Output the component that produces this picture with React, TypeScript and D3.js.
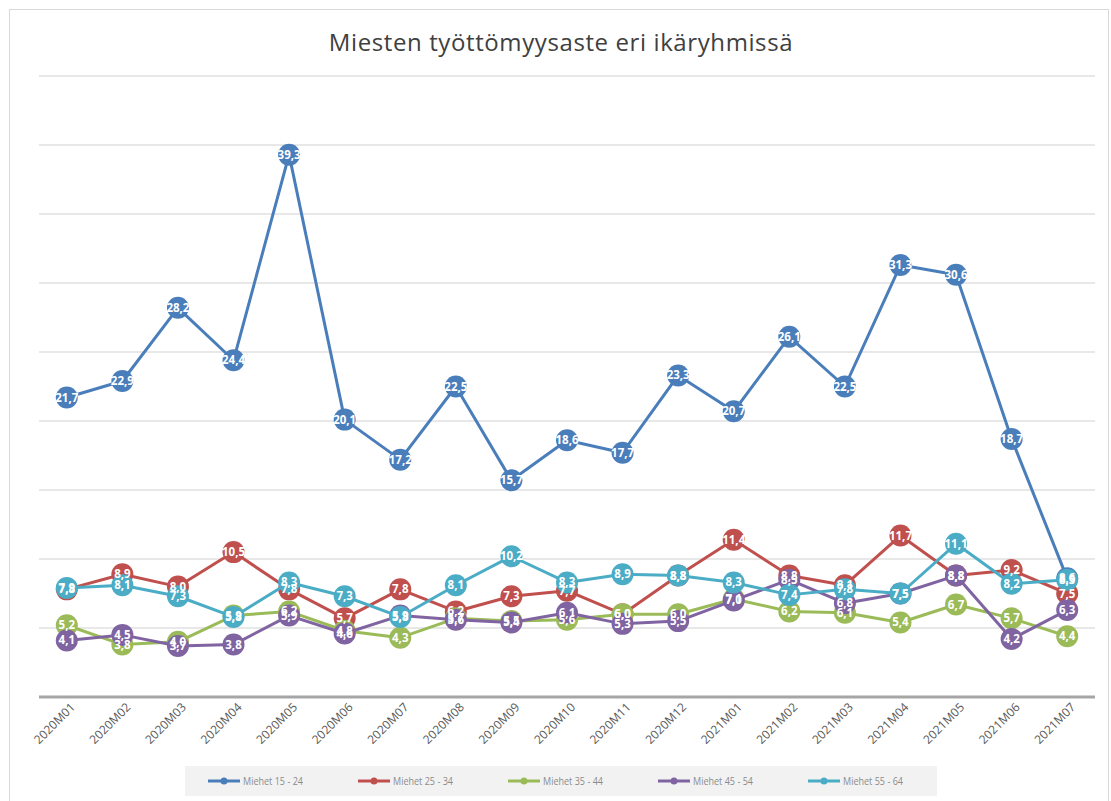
import { useEffect, useRef } from "react";
import * as d3 from "d3";

const months = [
  "2020M01", "2020M02", "2020M03", "2020M04", "2020M05", "2020M06", "2020M07",
  "2020M08", "2020M09", "2020M10", "2020M11", "2020M12", "2021M01", "2021M02",
  "2021M03", "2021M04", "2021M05", "2021M06", "2021M07",
];

const seriesNames = ["Miehet 15 - 24", "Miehet 25 - 34", "Miehet 35 - 44", "Miehet 45 - 54", "Miehet 55 - 64"];
const seriesColors = ["#4a7ebb", "#c0504d", "#9bbb59", "#8064a2", "#4bacc6"];

const men1524 = [21.7, 22.9, 28.2, 24.4, 39.3, 20.1, 17.2, 22.5, 15.7, 18.6, 17.7, 23.3, 20.7, 26.1, 22.5, 31.3, 30.6, 18.7, 8.6];
const men2534 = [7.8, 8.9, 8.0, 10.5, 7.8, 5.7, 7.8, 6.2, 7.3, 7.7, 6.0, 8.8, 11.4, 8.8, 8.1, 11.7, 8.8, 9.2, 7.5];
const men3544 = [5.2, 3.8, 4.0, 5.9, 6.2, 4.8, 4.3, 5.7, 5.5, 5.6, 6.0, 6.0, 7.1, 6.2, 6.1, 5.4, 6.7, 5.7, 4.4];
const men4554 = [4.1, 4.5, 3.7, 3.8, 5.9, 4.6, 5.9, 5.6, 5.4, 6.1, 5.3, 5.5, 7.0, 8.5, 6.8, 7.5, 8.8, 4.2, 6.3];
const men5564 = [7.9, 8.1, 7.3, 5.8, 8.3, 7.3, 5.8, 8.1, 10.2, 8.3, 8.9, 8.8, 8.3, 7.4, 7.8, 7.5, 11.1, 8.2, 8.5];

const yTicks = [0, 5, 10, 15, 20, 25, 30, 35, 40, 45];

const W = 1111;
const H = 801;
const FONT = "'Open Sans', 'Noto Sans', sans-serif";

export default function App() {
  const svgRef = useRef<SVGSVGElement>(null);

  useEffect(() => {
    const svgEl = svgRef.current;
    if (!svgEl) return;
    const root = d3.select(svgEl);
    root.selectAll("*").remove();

    const allSeries = [men1524, men2534, men3544, men4554, men5564];

    const x = d3.scaleBand<string>().domain(months).range([39, 1095]);
    const y = d3.scaleLinear().domain([0, 45]).range([697, 76]);
    const cx = (m: string) => (x(m) ?? 0) + x.bandwidth() / 2;

    // frame
    root.append("rect").attr("width", W).attr("height", H).attr("fill", "#fff");
    root
      .append("rect")
      .attr("x", 9.5)
      .attr("y", 9.5)
      .attr("width", 1099)
      .attr("height", 800)
      .attr("fill", "none")
      .attr("stroke", "#d9d9d9");

    root
      .append("text")
      .attr("x", 561)
      .attr("y", 51)
      .attr("text-anchor", "middle")
      .attr("font-family", FONT)
      .attr("font-size", 24)
      .attr("letter-spacing", 0.6)
      .attr("fill", "#404040")
      .text("Miesten työttömyysaste eri ikäryhmissä");

    // gridlines
    root
      .append("g")
      .selectAll("line")
      .data(yTicks.filter((t) => t > 0))
      .join("line")
      .attr("x1", 39)
      .attr("x2", 1095)
      .attr("y1", (d) => y(d))
      .attr("y2", (d) => y(d))
      .attr("stroke", "#e0e0e0")
      .attr("stroke-width", 1.5);

    root
      .append("line")
      .attr("x1", 39)
      .attr("x2", 1095)
      .attr("y1", y(0))
      .attr("y2", y(0))
      .attr("stroke", "#a6a6a6")
      .attr("stroke-width", 3);

    // x labels
    root
      .append("g")
      .selectAll("text")
      .data(months)
      .join("text")
      .attr("transform", (d) => `translate(${cx(d) + 9},${708}) rotate(-45)`)
      .attr("text-anchor", "end")
      .attr("font-family", FONT)
      .attr("font-size", 12)
      .attr("fill", "#595959")
      .text((d) => d);

    const line = d3
      .line<number>()
      .x((_, i) => cx(months[i]))
      .y((d) => y(d));

    allSeries.forEach((vals, si) => {
      const g = root.append("g");
      g.append("path")
        .attr("d", line(vals))
        .attr("fill", "none")
        .attr("stroke", seriesColors[si])
        .attr("stroke-width", 3)
        .attr("stroke-linejoin", "round");
      g.selectAll("circle")
        .data(vals)
        .join("circle")
        .attr("cx", (_, i) => cx(months[i]))
        .attr("cy", (d) => y(d))
        .attr("r", 11)
        .attr("fill", seriesColors[si]);
    });

    allSeries.forEach((vals) => {
      root
        .append("g")
        .selectAll("text")
        .data(vals)
        .join("text")
        .attr("x", (_, i) => cx(months[i]))
        .attr("y", (d) => y(d) + 4)
        .attr("text-anchor", "middle")
        .attr("font-family", FONT)
        .attr("font-size", 11.5)
        .attr("font-weight", 700)
        .attr("fill", "#fff")
        .text((d) => d.toFixed(1).replace(".", ","));
    });

    // legend
    const lg = root.append("g");
    lg.append("rect")
      .attr("x", 185)
      .attr("y", 766)
      .attr("width", 752)
      .attr("height", 30)
      .attr("fill", "#f2f2f2");
    const item = lg
      .selectAll("g")
      .data(seriesNames)
      .join("g")
      .attr("transform", (_, i) => `translate(${208 + i * 150},781)`);
    item
      .append("line")
      .attr("x1", 0)
      .attr("x2", 32)
      .attr("stroke", (_, i) => seriesColors[i])
      .attr("stroke-width", 3);
    item
      .append("circle")
      .attr("cx", 16)
      .attr("r", 3.5)
      .attr("fill", (_, i) => seriesColors[i]);
    item
      .append("text")
      .attr("x", 35)
      .attr("y", 4)
      .attr("font-family", FONT)
      .attr("font-size", 11)
      .attr("textLength", 60)
      .attr("lengthAdjust", "spacingAndGlyphs")
      .attr("fill", "#8c8c8c")
      .text((d) => d);
  }, []);

  return (
    <svg
      ref={svgRef}
      width={W}
      height={H}
      style={{ position: "absolute", left: 0, top: 0, display: "block" }}
    />
  );
}
